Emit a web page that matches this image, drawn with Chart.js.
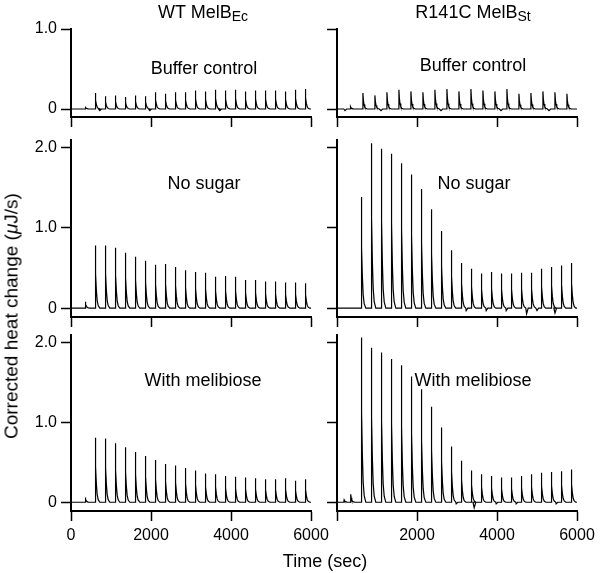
<!DOCTYPE html>
<html>
<head>
<meta charset="utf-8">
<script src="https://cdn.jsdelivr.net/npm/chart.js@4.4.1/dist/chart.umd.min.js"></script>
<style>
  body { margin: 0; background: #fff; }
  #wrap { position: relative; width: 600px; height: 573px; font-family: 'Liberation Sans', Arial, Helvetica, sans-serif; color: #000; overflow: hidden; }
  canvas { position: absolute; left: 0; top: 0; }
  .lbl { position: absolute; white-space: nowrap; transform: translate(-50%, -50%); font-size: 18px; line-height: 1; z-index: 5; }
  .lbl sub { font-size: 14px; vertical-align: -3px; line-height: 0; }
  .ytitle { position: absolute; white-space: nowrap; left: 11px; top: 316px; transform: translate(-50%, -50%) rotate(-90deg); font-size: 19px; line-height: 1; z-index: 5; }
</style>
</head>
<body>
<div id="wrap">
  <canvas id="c0" width="600" height="573"></canvas>
  <canvas id="c1" width="600" height="573"></canvas>
  <canvas id="c2" width="600" height="573"></canvas>
  <canvas id="c3" width="600" height="573"></canvas>
  <canvas id="c4" width="600" height="573"></canvas>
  <canvas id="c5" width="600" height="573"></canvas>

  <div class="lbl" style="left:203px; top:12px;">WT MelB<sub>Ec</sub></div>
  <div class="lbl" style="left:473px; top:12px;">R141C MelB<sub>St</sub></div>

  <div class="lbl" style="left:204px; top:68px;">Buffer control</div>
  <div class="lbl" style="left:473px; top:65px;">Buffer control</div>
  <div class="lbl" style="left:204px; top:183px;">No sugar</div>
  <div class="lbl" style="left:474px; top:183px;">No sugar</div>
  <div class="lbl" style="left:203px; top:380px;">With melibiose</div>
  <div class="lbl" style="left:473px; top:380px;">With melibiose</div>

  <div class="lbl" style="left:325px; top:561px;">Time (sec)</div>
  <div class="ytitle">Corrected heat change (<i>μ</i>J/s)</div>
</div>

<script>
// ---------- data ----------
const xTicks = [0, 2000, 4000, 6000];
const yTicksTop = [0, 1.0];
const yTicksLower = [0, 1.0, 2.0];

// injection times (s)
const injTimes = [600, 850, 1100, 1350, 1600, 1850, 2100, 2350, 2600, 2850, 3100,
                  3350, 3600, 3850, 4100, 4350, 4600, 4850, 5100, 5350, 5600, 5850];
const injTimesR141CBuffer = [640, 940, 1240, 1540, 1840, 2140, 2440, 2740, 3040,
                             3340, 3640, 3940, 4240, 4540, 4840, 5140, 5440, 5740];

// peak heights (µJ/s)
const wtBufferPeaks = [0.20, 0.16, 0.17, 0.15, 0.17, 0.16, 0.21, 0.19, 0.21, 0.21, 0.23,
                       0.22, 0.24, 0.23, 0.24, 0.22, 0.23, 0.23, 0.23, 0.22, 0.24, 0.25];
const wtNoSugarPeaks = [0.78, 0.78, 0.75, 0.69, 0.64, 0.59, 0.54, 0.55, 0.51, 0.47, 0.45,
                        0.44, 0.39, 0.40, 0.39, 0.35, 0.35, 0.33, 0.33, 0.32, 0.32, 0.31];
const wtMelibiosePeaks = [0.81, 0.80, 0.74, 0.69, 0.63, 0.58, 0.53, 0.48, 0.46, 0.43, 0.40,
                          0.36, 0.35, 0.33, 0.32, 0.31, 0.30, 0.29, 0.29, 0.30, 0.27, 0.29];
const r141cBufferPeaks = [0.20, 0.17, 0.21, 0.24, 0.22, 0.21, 0.24, 0.25, 0.22,
                          0.25, 0.23, 0.22, 0.25, 0.19, 0.20, 0.22, 0.21, 0.19];
const r141cNoSugarPeaks = [1.38, 2.05, 1.98, 1.92, 1.80, 1.66, 1.48, 1.23, 0.96, 0.72, 0.56,
                           0.49, 0.43, 0.45, 0.43, 0.43, 0.44, 0.44, 0.49, 0.51, 0.53, 0.56];
const r141cMelibiosePeaks = [2.07, 1.94, 1.88, 1.80, 1.72, 1.58, 1.42, 1.20, 0.94, 0.70, 0.52,
                             0.40, 0.35, 0.33, 0.31, 0.31, 0.33, 0.35, 0.37, 0.38, 0.39, 0.41];

// small pre-injections [time, height]
const wtBufferPre = [[350, 0.03]];
const wtNoSugarPre = [[350, 0.08]];
const wtMelibiosePre = [[350, 0.06]];
const r141cBufferPre = [[330, 0.03]];
const r141cNoSugarPre = [];
const r141cMelibiosePre = [[170, 0.03], [335, 0.10]];

// baseline dips [time, value]
const wtBufferDips = [[720, -0.02], [1970, -0.02], [3720, -0.02]];
const wtNoSugarDips = [];
const wtMelibioseDips = [];
const r141cBufferDips = [[200, -0.02], [1100, -0.02], [2600, -0.02], [4100, -0.02], [5300, -0.02]];
const r141cNoSugarDips = [[3230, -0.03], [3730, -0.03], [4230, -0.03], [4740, -0.07], [5000, -0.03], [5450, -0.06]];
const r141cMelibioseDips = [[2980, -0.02], [3430, -0.07], [3980, -0.02], [4480, -0.02], [5480, -0.02]];

// ---------- drawing helpers (shape of a single injection spike) ----------
const SHAPE_DT = [0, 8, 20, 35, 55, 80, 120];
const SHAPE_F  = [0, 1, 0.55, 0.28, 0.12, 0.04, 0];
const DIP_DT = [-30, 0, 40];
const DIP_F  = [0, 1, 0];

function buildTrace(times, peaks, pre, dips) {
  const events = [];
  pre.forEach(([t, h]) => events.push({ t, h, kind: 'peak' }));
  times.forEach((t, i) => events.push({ t, h: peaks[i], kind: 'peak' }));
  dips.forEach(([t, h]) => events.push({ t, h, kind: 'dip' }));
  events.sort((a, b) => a.t - b.t);
  const pts = [{ x: 0, y: 0 }];
  events.forEach(e => {
    const dt = e.kind === 'peak' ? SHAPE_DT : DIP_DT;
    const f = e.kind === 'peak' ? SHAPE_F : DIP_F;
    dt.forEach((d, k) => pts.push({ x: e.t + d, y: e.h * f[k] }));
  });
  pts.push({ x: 6000, y: 0 });
  return pts;
}

const FONT = "'Liberation Sans', Arial, Helvetica, sans-serif";
const W = 600, H = 573, YW = 50, XH = 50;
const cols = [{ left: 71, right: 311 }, { left: 337, right: 577 }];
const rows = [
  { top: 29, bottom: 117, min: -0.1, max: 1.0, ticks: yTicksTop },
  { top: 140, bottom: 317, min: -0.11, max: 2.09, ticks: yTicksLower },
  { top: 335, bottom: 511, min: -0.11, max: 2.1, ticks: yTicksLower }
];

const panels = [
  { id: 'c0', r: 0, c: 0, data: buildTrace(injTimes, wtBufferPeaks, wtBufferPre, wtBufferDips) },
  { id: 'c1', r: 0, c: 1, data: buildTrace(injTimesR141CBuffer, r141cBufferPeaks, r141cBufferPre, r141cBufferDips) },
  { id: 'c2', r: 1, c: 0, data: buildTrace(injTimes, wtNoSugarPeaks, wtNoSugarPre, wtNoSugarDips) },
  { id: 'c3', r: 1, c: 1, data: buildTrace(injTimes, r141cNoSugarPeaks, r141cNoSugarPre, r141cNoSugarDips) },
  { id: 'c4', r: 2, c: 0, data: buildTrace(injTimes, wtMelibiosePeaks, wtMelibiosePre, wtMelibioseDips) },
  { id: 'c5', r: 2, c: 1, data: buildTrace(injTimes, r141cMelibiosePeaks, r141cMelibiosePre, r141cMelibioseDips) }
];

panels.forEach(p => {
  const col = cols[p.c], row = rows[p.r];
  const showX = p.r === 2;
  const showY = p.c === 0;
  new Chart(document.getElementById(p.id), {
    type: 'line',
    data: {
      datasets: [{
        data: p.data,
        borderColor: '#000',
        borderWidth: 1.2,
        pointRadius: 0,
        tension: 0,
        fill: false
      }]
    },
    options: {
      responsive: false,
      animation: false,
      events: [],
      layout: {
        padding: { left: col.left - YW, right: W - col.right, top: row.top, bottom: H - row.bottom - XH }
      },
      plugins: { legend: { display: false }, tooltip: { enabled: false } },
      scales: {
        x: {
          type: 'linear',
          min: 0, max: 6000,
          afterBuildTicks: s => { s.ticks = xTicks.map(v => ({ value: v })); },
          afterFit: s => { s.height = XH; },
          ticks: {
            display: showX,
            maxRotation: 0,
            padding: 5,
            color: '#000',
            font: { family: FONT, size: 16 },
            callback: v => (p.c === 1 && v === 0) ? '' : String(v)
          },
          grid: { drawOnChartArea: false, drawTicks: true, tickLength: 10, tickWidth: 1.5, tickColor: '#000' },
          border: { display: true, color: '#000', width: 2 }
        },
        y: {
          type: 'linear',
          min: row.min, max: row.max,
          afterBuildTicks: s => { s.ticks = row.ticks.map(v => ({ value: v })); },
          afterFit: s => { s.width = YW; },
          ticks: {
            display: showY,
            padding: 4,
            color: '#000',
            font: { family: FONT, size: 16 },
            callback: v => v === 0 ? '0' : Number(v).toFixed(1)
          },
          grid: { drawOnChartArea: false, drawTicks: true, tickLength: 10, tickWidth: 1.5, tickColor: '#000' },
          border: { display: true, color: '#000', width: 2 }
        }
      }
    }
  });
});
</script>
</body>
</html>
